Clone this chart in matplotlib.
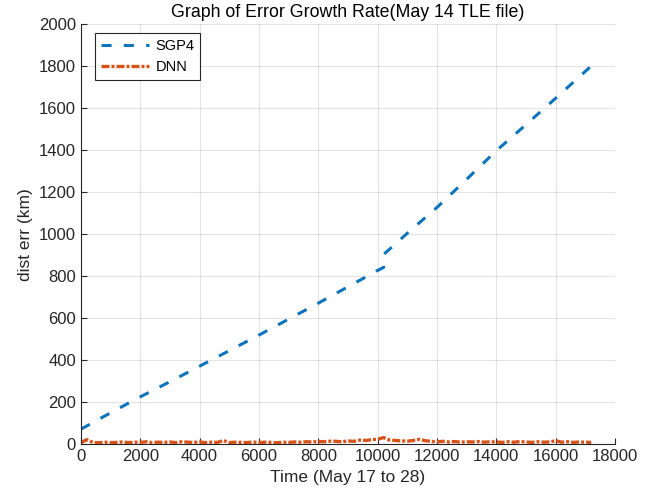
import matplotlib
matplotlib.use('Agg')
import matplotlib.pyplot as plt
import numpy as np

# SGP4 error (km)
sgp4_t = [0, 1000, 2000, 3000, 4000, 5000, 6000, 7000, 8000, 9000,
          10000, 10200, 10210, 11000, 12000, 13000, 14000, 15000, 16000, 17150]
sgp4_err = [72, 150, 226, 298, 372, 446, 520, 596, 672, 750,
            828, 842, 905, 1005, 1128, 1262, 1398, 1522, 1648, 1795]

# DNN error (km), sampled every 200 steps
dnn_t = list(range(0, 17400, 200))
dnn_err = [8, 22, 9, 7, 10, 8, 9, 11, 8, 10,
           9, 12, 8, 10, 9, 11, 8, 12, 10, 9,
           11, 8, 10, 9, 18, 8, 10, 9, 8, 11,
           8, 10, 9, 7, 10, 9, 11, 10, 12, 11,
           13, 12, 15, 14, 12, 16, 14, 20, 18, 22,
           24, 32, 20, 18, 16, 15, 18, 24, 17, 14,
           12, 14, 11, 13, 10, 12, 11, 13, 10, 12,
           11, 9, 12, 10, 13, 11, 9, 12, 10, 11,
           17, 10, 12, 9, 11, 10, 9]

plt.rcParams['font.family'] = ['Liberation Sans', 'DejaVu Sans']

fig = plt.figure(figsize=(6.65, 5.01), dpi=100)
ax = fig.add_axes([0.1217, 0.1132, 0.8031, 0.8383])

ax.plot(sgp4_t, sgp4_err, color='#0C74BD', linewidth=2.2, dashes=(3.3, 4.0), label='SGP4')
ax.plot(dnn_t, dnn_err, color='#D95319', linewidth=2.4, dashes=(2.4, 0.6, 0.9, 0.6), label='DNN')

ax.set_xlim(0, 18000)
ax.set_ylim(0, 2000)
ax.set_xticks(np.arange(0, 18001, 2000))
ax.set_yticks(np.arange(0, 2001, 200))
ax.grid(True, color='#262626', alpha=0.12, linewidth=0.8)
ax.set_axisbelow(True)

ax.spines['top'].set_visible(False)
ax.spines['right'].set_visible(False)
for s in ['left', 'bottom']:
    ax.spines[s].set_color('#262626')
    ax.spines[s].set_linewidth(0.8)
ax.tick_params(direction='in', length=4, width=0.8, colors='#262626', labelsize=12)

ax.set_xlabel('Time (May 17 to 28)', fontsize=12.5, color='#262626')
ax.set_ylabel('dist err (km)', fontsize=12.5, color='#262626')
ax.set_title('Graph of Error Growth Rate(May 14 TLE file)', fontsize=12.75, color='#000000', pad=5)

leg = ax.legend(loc='upper left', bbox_to_anchor=(0.026, 0.979), borderaxespad=0,
                fontsize=10.5, fancybox=False, framealpha=1, edgecolor='#262626',
                handlelength=3.3, handletextpad=0.45, borderpad=0.4)
leg.get_frame().set_linewidth(0.8)

fig.savefig('out.png', dpi=100)
